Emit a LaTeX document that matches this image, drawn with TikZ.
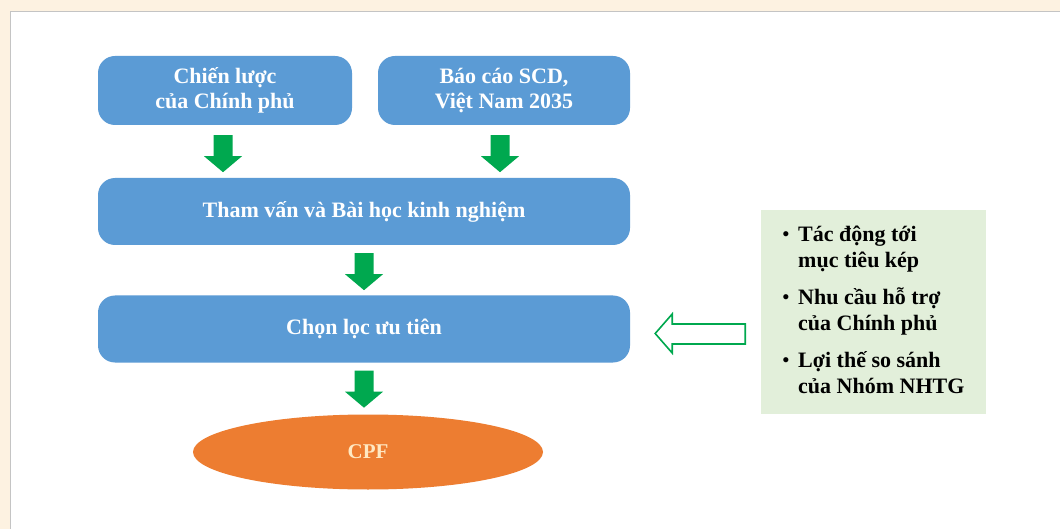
\documentclass[tikz,border=0pt]{standalone}
\usepackage{fontspec}
\setmainfont{Liberation Serif}
\usepackage{xcolor}
\usetikzlibrary{shapes,calc}
\definecolor{creambg}{HTML}{FDF2E1}
\definecolor{panelgray}{HTML}{C4C4C4}
\definecolor{boxblue}{HTML}{5B9BD5}
\definecolor{cpforange}{HTML}{ED7D31}
\definecolor{arrowgreen}{HTML}{00A84F}
\definecolor{notegreen}{HTML}{E2EFDA}
\definecolor{cpftext}{HTML}{FFE8C2}
\newcommand\smallBullet{\raisebox{0.5pt}{\fontsize{19}{19}\selectfont\textbullet}}

\begin{document}
\begin{tikzpicture}[x=1pt,y=-1pt,
    bluebox/.style={rectangle,rounded corners=17pt,fill=boxblue,text=white,inner sep=0pt,
        align=center,font=\bfseries\fontsize{22}{25}\selectfont},
    cpfnode/.style={ellipse,fill=cpforange,text=cpftext,inner sep=0pt,
        font=\bfseries\fontsize{21}{25}\selectfont},
    notebox/.style={rectangle,fill=notegreen,inner sep=0pt,font=\bfseries\fontsize{22}{26}\selectfont}]
        \newcommand\downArrow[1]{\fill[arrowgreen,shift={#1}] (-9.5,0) -- (9.5,0) -- (9.5,21) -- (19,21) -- (0,37) -- (-19,21) -- (-9.5,21) -- cycle}
        \clip (0,0) rectangle (1060,529);
        \fill[creambg] (0,0) rectangle (1060,529);
        \filldraw[fill=white,draw=panelgray,line width=1pt] (10,12) rectangle (1080,550);
        % boxes
        \node[bluebox,minimum width=254pt,minimum height=69pt] (chien) at (225,90.5) {Chiến lược\\của Chính phủ};
        \node[bluebox,minimum width=252pt,minimum height=69pt] (bao) at (504,90.5) {Báo cáo SCD,\\Việt Nam 2035};
        \node[bluebox,minimum width=532pt,minimum height=67pt] (tham) at (364,211.5) {Tham vấn và Bài học kinh nghiệm};
        \node[bluebox,minimum width=532pt,minimum height=67pt] (chon) at (364,329) {Chọn lọc ưu tiên};
        \node[cpfnode,minimum width=350pt,minimum height=75pt] (cpf) at (368,452) {CPF};
        \node[notebox,minimum width=225pt,minimum height=204pt] (tieuchi) at (873.5,312) {%
            \begin{tabular}{@{}l@{\hspace{9pt}}l@{}}
            \smallBullet & Tác động tới\\
                         & mục tiêu kép\\[11pt]
            \smallBullet & Nhu cầu hỗ trợ\\
                         & của Chính phủ\\[11pt]
            \smallBullet & Lợi thế so sánh\\
                         & của Nhóm NHTG
            \end{tabular}};
        % arrows
        \downArrow{($(chien.south)+(-2,10)$)};
        \downArrow{($(bao.south)+(-4,10)$)};
        \downArrow{($(tham.south)+(0,8)$)};
        \downArrow{($(chon.south)+(0,8)$)};
        \draw[arrowgreen,line width=1.6pt,line join=miter,shift={(chon.east)}] (25,4.5) -- (42,-15) -- (42,-5) -- (115,-5) -- (115,15) -- (42,15) -- (42,24) -- cycle;
\end{tikzpicture}
\end{document}
